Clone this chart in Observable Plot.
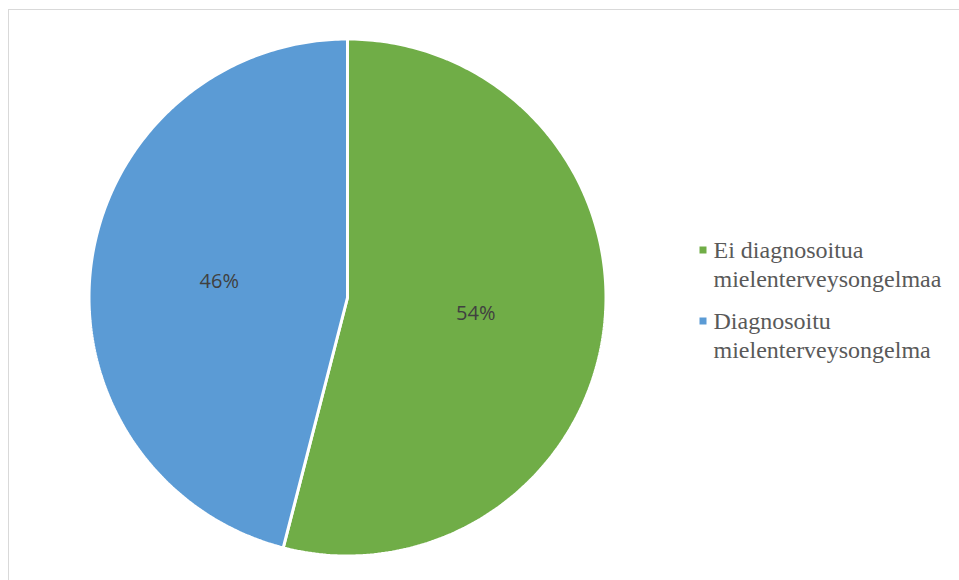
<!DOCTYPE html>
<html>
<head>
<meta charset="utf-8">
<script src="https://cdn.jsdelivr.net/npm/d3@7"></script>
<script src="https://cdn.jsdelivr.net/npm/@observablehq/plot@0.6"></script>
</head>
<body style="margin:0;padding:0;background:#fff">
<div id="wrap" style="position:relative;width:959px;height:580px;overflow:hidden">
  <div id="frame" style="position:absolute;left:8px;top:9px;width:960px;height:580px;border-top:1.5px solid #d9d9d9;border-left:1.5px solid #d9d9d9;box-sizing:border-box"></div>
  <div id="chart" style="position:absolute;left:0;top:0"></div>
  <div id="legend" style="position:absolute;left:695px;top:220px"></div>
</div>
<script>
const categories = ["Ei diagnosoitua mielenterveysongelmaa", "Diagnosoitu mielenterveysongelma"];
const values = [54, 46];
const colors = ["#70AD47", "#5B9BD5"];

const W = 959, H = 580;
const cx = 347, cy = 297, R = 258.5;

const arcs = d3.pie().sort(null).value(d => d)(values);

// Build slice outlines from pie angles (data-driven)
const slicePts = [];
arcs.forEach((a, i) => {
  const key = categories[i];
  slicePts.push({key, x: 0, y: 0});
  const n = 240;
  for (let k = 0; k <= n; k++) {
    const t = a.startAngle + (a.endAngle - a.startAngle) * k / n;
    slicePts.push({key, x: R * Math.sin(t), y: -R * Math.cos(t)});
  }
  slicePts.push({key, x: 0, y: 0});
});

const labels = arcs.map((a, i) => {
  const m = (a.startAngle + a.endAngle) / 2;
  return {key: categories[i], text: values[i] + "%", x: 0.5 * R * Math.sin(m), y: -0.5 * R * Math.cos(m)};
});

const chart = Plot.plot({
  width: W,
  height: H,
  margin: 0,
  x: {domain: [-cx, W - cx], range: [0, W], axis: null},
  y: {domain: [-cy, H - cy], range: [0, H], axis: null},
  color: {domain: categories, range: colors},
  marks: [
    Plot.line(slicePts, {x: "x", y: "y", z: "key", fill: "key", stroke: "white", strokeWidth: 3, strokeLinejoin: "miter", curve: "linear"}),
    Plot.text(labels, {x: "x", y: "y", text: "text", fill: "#404040", fontSize: 20, fontFamily: "Open Sans"})
  ],
  style: {background: "transparent", fontFamily: "Open Sans"}
});
chart.querySelectorAll("text").forEach(t => t.style.setProperty("font-family", "'Open Sans'", "important"));
document.getElementById("chart").appendChild(chart);

// Legend drawn with its own Plot (point scale over categories)
const legendRows = categories.map((c, i) => ({key: c, label: c.replace(" mielenterveys", "\nmielenterveys")}));
const legend = Plot.plot({
  width: 262,
  height: 160,
  margin: 0,
  x: {axis: null},
  y: {type: "point", padding: 0, domain: categories, range: [43, 114], axis: null},
  color: {domain: categories, range: colors},
  marks: [
    Plot.dot(legendRows, {y: "key", fill: "key", symbol: "square", r: 3.95, frameAnchor: "left", dx: 7.5, dy: -13.5, stroke: null}),
    Plot.text(legendRows, {y: "key", text: "label", frameAnchor: "left", dx: 18, textAnchor: "start", lineAnchor: "middle",
      lineHeight: 1.19, fill: "#595959", fontSize: 24, fontFamily: "Liberation Serif"})
  ],
  style: {background: "transparent", fontFamily: "Liberation Serif"}
});
legend.querySelectorAll("text, tspan").forEach(t => t.style.setProperty("font-family", "'Liberation Serif'", "important"));
document.getElementById("legend").appendChild(legend);
</script>
</body>
</html>
